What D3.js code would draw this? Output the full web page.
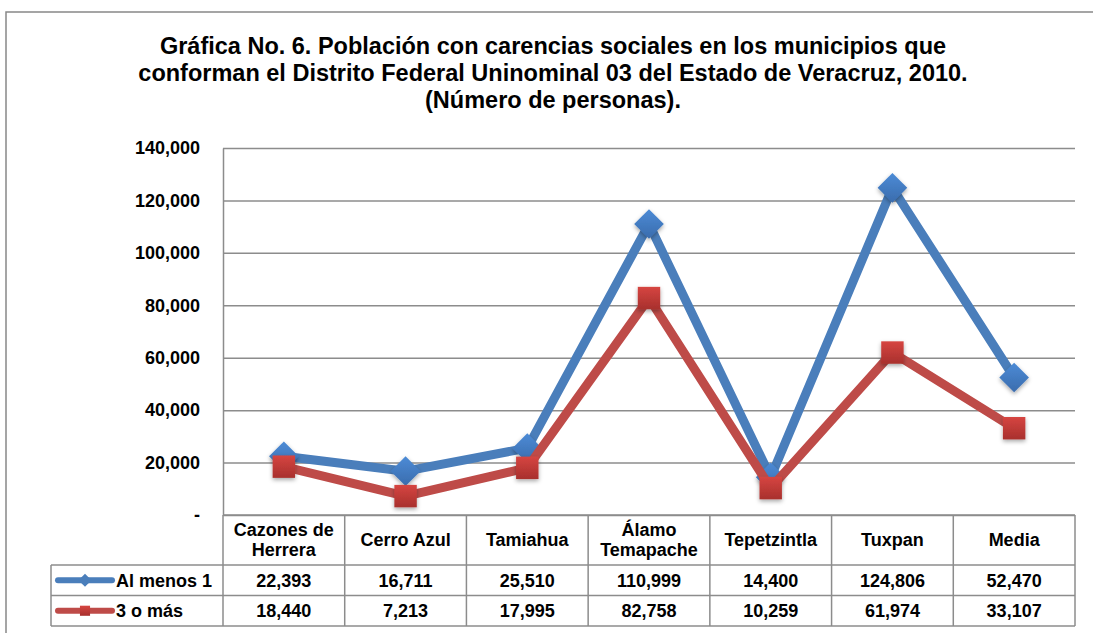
<!DOCTYPE html>
<html>
<head>
<meta charset="utf-8">
<script src="https://cdn.jsdelivr.net/npm/d3@7"></script>
<style>
  body { margin: 0; background: #fff; }
  svg text { font-family: "Liberation Sans", Arial, sans-serif; font-weight: bold; fill: #000; }
</style>
</head>
<body>
<div class="chart"></div>
<script>
// Data
const categories = ["Cazones de Herrera", "Cerro Azul", "Tamiahua", "Álamo Temapache", "Tepetzintla", "Tuxpan", "Media"];
const categoryLines = [["Cazones de", "Herrera"], ["Cerro Azul"], ["Tamiahua"], ["Álamo", "Temapache"], ["Tepetzintla"], ["Tuxpan"], ["Media"]];
const alMenos1 = [22393, 16711, 25510, 110999, 14400, 124806, 52470];
const tresOMas = [18440, 7213, 17995, 82758, 10259, 61974, 33107];
const seriesNames = ["Al menos 1", "3 o más"];
const yTicks = [0, 20000, 40000, 60000, 80000, 100000, 120000, 140000];
const titleLines = [
  "Gráfica No. 6. Población con carencias sociales en los municipios que",
  "conforman el Distrito Federal Uninominal 03 del Estado de Veracruz, 2010.",
  "(Número de personas)."
];

const width = 1093, height = 633;
const plot = {left: 223, right: 1075, top: 148, bottom: 515};
const rowTop = [515, 565, 595.5, 626];
const legendLeft = 51;
const blue = "#4A7EBB", red = "#BE4B48", grid = "#8c8c8c";

const svg = d3.select(".chart").append("svg")
  .attr("width", width)
  .attr("height", height);

const defs = svg.append("defs");
const shadow = defs.append("filter").attr("id", "shadow")
  .attr("x", "-50%").attr("y", "-50%").attr("width", "200%").attr("height", "200%");
shadow.append("feDropShadow")
  .attr("dx", 0).attr("dy", 2).attr("stdDeviation", 2)
  .attr("flood-color", "#000").attr("flood-opacity", 0.35);
const redGrad = defs.append("linearGradient").attr("id", "redGrad")
  .attr("x1", 0).attr("y1", 0).attr("x2", 0).attr("y2", 1);
redGrad.append("stop").attr("offset", "0%").attr("stop-color", "#D64541");
redGrad.append("stop").attr("offset", "100%").attr("stop-color", "#A8302D");
const blueGrad = defs.append("linearGradient").attr("id", "blueGrad")
  .attr("x1", 0).attr("y1", 0).attr("x2", 0).attr("y2", 1);
blueGrad.append("stop").attr("offset", "0%").attr("stop-color", "#4C8BD6");
blueGrad.append("stop").attr("offset", "100%").attr("stop-color", "#3A6CAD");

// outer border
svg.append("path")
  .attr("d", `M6,${height + 2}V12H${width + 2}`)
  .attr("fill", "none").attr("stroke", "#888").attr("stroke-width", 1.5);

// title
svg.append("g").selectAll("text").data(titleLines).join("text")
  .attr("x", 553)
  .attr("y", (d, i) => 54 + i * 27)
  .attr("text-anchor", "middle")
  .style("font-size", "23.5px")
  .text(d => d);

// scales
const x = d3.scaleBand().domain(categories).range([plot.left, plot.right]);
const y = d3.scaleLinear().domain([0, 140000]).range([plot.bottom, plot.top]);

// gridlines
const gGrid = svg.append("g")
  .attr("transform", `translate(${plot.left},0)`)
  .call(d3.axisLeft(y).tickValues(yTicks).tickSize(-(plot.right - plot.left)).tickFormat(""));
gGrid.select(".domain").remove();
gGrid.selectAll("line").attr("stroke", grid).attr("stroke-width", 1.5);

// y axis
const gY = svg.append("g")
  .attr("transform", `translate(${plot.left},0)`)
  .call(d3.axisLeft(y).tickValues(yTicks).tickSize(0).tickPadding(23)
    .tickFormat(d => d === 0 ? "-" : d3.format(",")(d)));
gY.select(".domain").attr("stroke", grid).attr("stroke-width", 1.5);
gY.selectAll("text").style("font-size", "18px").attr("dy", "0.32em");

// data table
const table = svg.append("g").attr("stroke", grid).attr("stroke-width", 1.5).attr("fill", "none");
const edges = categories.map(c => x(c)).concat([plot.right]);
edges.forEach(ex => {
  table.append("line")
    .attr("x1", ex).attr("x2", ex)
    .attr("y1", rowTop[0]).attr("y2", rowTop[3]);
});
table.append("line").attr("x1", legendLeft).attr("x2", legendLeft).attr("y1", rowTop[1]).attr("y2", rowTop[3]);
table.append("line").attr("x1", plot.left).attr("x2", plot.right).attr("y1", rowTop[0]).attr("y2", rowTop[0]);
[1, 2, 3].forEach(r => {
  table.append("line").attr("x1", legendLeft).attr("x2", plot.right).attr("y1", rowTop[r]).attr("y2", rowTop[r]);
});

// category headers
const headerMid = (rowTop[0] + rowTop[1]) / 2;
svg.append("g").selectAll("text").data(categories).join("text")
  .attr("text-anchor", "middle")
  .style("font-size", "18px")
  .each(function(d, i) {
    const lines = categoryLines[i];
    const t = d3.select(this);
    lines.forEach((ln, j) => {
      t.append("tspan")
        .attr("x", x(d) + x.bandwidth() / 2)
        .attr("y", headerMid + (j - (lines.length - 1) / 2) * 20)
        .attr("dy", "0.35em")
        .text(ln);
    });
  });

// value rows
const allSeries = [alMenos1, tresOMas];
allSeries.forEach((vals, r) => {
  const cy = (rowTop[r + 1] + rowTop[r + 2]) / 2;
  svg.append("g").selectAll("text").data(vals).join("text")
    .attr("x", (d, i) => x(categories[i]) + x.bandwidth() / 2)
    .attr("y", cy)
    .attr("dy", "0.35em")
    .attr("text-anchor", "middle")
    .style("font-size", "18px")
    .text(d => d3.format(",")(d));
});

// legend keys
const diamond = d3.symbol().type(d3.symbolDiamond2);
const square = d3.symbol().type(d3.symbolSquare2);
[blue, red].forEach((col, r) => {
  const cy = (rowTop[r + 1] + rowTop[r + 2]) / 2;
  const g = svg.append("g");
  g.append("line")
    .attr("x1", 58).attr("x2", 112).attr("y1", cy).attr("y2", cy)
    .attr("stroke", col).attr("stroke-width", 6).attr("stroke-linecap", "round");
  if (r === 0) {
    g.append("path").attr("d", diamond.size(110)()).attr("transform", `translate(85,${cy})`).attr("fill", col);
  } else {
    g.append("path").attr("d", square.size(130)()).attr("transform", `translate(85,${cy})`).attr("fill", "url(#redGrad)");
  }
  g.append("text").attr("x", 116).attr("y", cy).attr("dy", "0.35em")
    .style("font-size", "18px").text(seriesNames[r]);
});

// lines
const line = d3.line()
  .x((d, i) => x(categories[i]) + x.bandwidth() / 2)
  .y(d => y(d));

svg.append("path").datum(alMenos1)
  .attr("d", line).attr("fill", "none")
  .attr("stroke", blue).attr("stroke-width", 9).attr("stroke-linejoin", "round");
svg.append("g").selectAll("path").data(alMenos1).join("path")
  .attr("d", diamond.size(560)())
  .attr("transform", (d, i) => `translate(${x(categories[i]) + x.bandwidth() / 2},${y(d)})`)
  .attr("fill", "url(#blueGrad)")
  .attr("filter", "url(#shadow)");

svg.append("path").datum(tresOMas)
  .attr("d", line).attr("fill", "none")
  .attr("stroke", red).attr("stroke-width", 9).attr("stroke-linejoin", "round");
svg.append("g").selectAll("path").data(tresOMas).join("path")
  .attr("d", square.size(640)())
  .attr("transform", (d, i) => `translate(${x(categories[i]) + x.bandwidth() / 2},${y(d)})`)
  .attr("fill", "url(#redGrad)")
  .attr("filter", "url(#shadow)");
</script>
</body>
</html>
